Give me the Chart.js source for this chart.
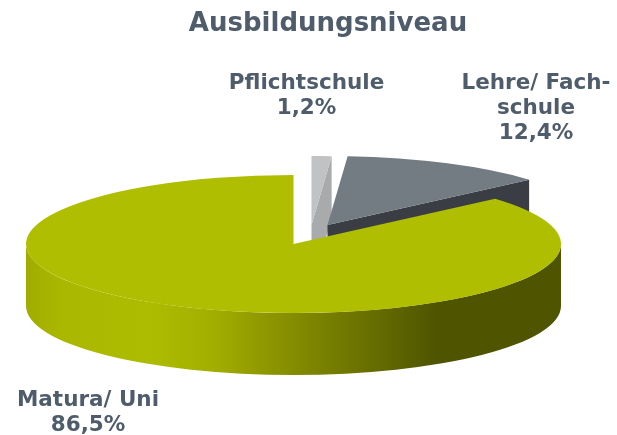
<!DOCTYPE html>
<html><head><meta charset="utf-8">
<style>html,body{margin:0;padding:0;background:#fff}canvas{display:block}</style>
<script src="https://cdn.jsdelivr.net/npm/chart.js@4/dist/chart.umd.js"></script>
</head><body>
<canvas id="c" width="617" height="435"></canvas>
<script>
const categories = ["Pflichtschule", "Lehre/ Fachschule", "Matura/ Uni"];
const values = [1.2, 12.4, 86.5];
const valueLabels = ["1,2%", "12,4%", "86,5%"];
const labelLines = [["Pflichtschule"], ["Lehre/ Fach-", "schule"], ["Matura/ Uni"]];
const topColors = ["#c1c2c4", "#737b83", "#b0be00"];
const faceColors = ["#a9aaac", "#3b3d45", "#4e5400"];
const labelPos = [[306.5, 83], [536, 83], [88, 400]];
const explode = [[18, -19], [34, -19], [0, 0]];
const CX = 293.5, CY = 244, RX = 267.5, RY = 69, DEPTH = 62;
const TEXT = "#4f5c6b", FONT = '"DejaVu Sans", Verdana, sans-serif';

const pie3d = {
  id: "pie3d",
  beforeDatasetsDraw(chart) {
    const ctx = chart.ctx;
    const arcs = chart.getDatasetMeta(0).data;
    arcs.forEach((arc, i) => {
      const cx = CX + explode[i][0], cy = CY + explode[i][1];
      const a0 = arc.startAngle, a1 = arc.endAngle;
      // cut face below the closing edge of the slice
      const ex = cx + RX * Math.cos(a1), ey = cy + RY * Math.sin(a1);
      ctx.fillStyle = faceColors[i];
      ctx.beginPath();
      ctx.moveTo(cx, cy); ctx.lineTo(ex, ey);
      ctx.lineTo(ex, ey + DEPTH); ctx.lineTo(cx, cy + DEPTH);
      ctx.closePath(); ctx.fill();
      // outer wall on the part of the rim that faces the viewer
      const f0 = Math.max(a0, 0), f1 = Math.min(a1, Math.PI);
      if (f1 > f0) {
        const g = ctx.createLinearGradient(26, 0, 561, 0);
        [[0, "#a0ac00"], [0.06, "#a9b700"], [0.23, "#aebc00"], [0.34, "#a4b000"],
         [0.5, "#848c00"], [0.77, "#4e5400"], [1, "#4e5400"]].forEach(s => g.addColorStop(s[0], s[1]));
        ctx.fillStyle = g;
        ctx.beginPath();
        ctx.ellipse(cx, cy, RX, RY, 0, f0, f1);
        ctx.ellipse(cx, cy + DEPTH, RX, RY, 0, f1, f0, true);
        ctx.closePath(); ctx.fill();
      }
      // top surface: the library's own arc element under a tilt transform
      ctx.save();
      ctx.translate(cx, cy);
      ctx.scale(RX / arc.outerRadius, RY / arc.outerRadius);
      ctx.translate(-arc.x, -arc.y);
      arc.draw(ctx);
      ctx.restore();
    });
    return false;
  },
  afterDraw(chart) {
    const ctx = chart.ctx;
    ctx.save();
    ctx.fillStyle = TEXT;
    ctx.font = "bold 21.5px " + FONT;
    ctx.textAlign = "center";
    ctx.textBaseline = "middle";
    categories.forEach((_, i) => {
      const lines = labelLines[i].concat(valueLabels[i]);
      lines.forEach((t, k) => ctx.fillText(t, labelPos[i][0], labelPos[i][1] + k * 25.3));
    });
    ctx.restore();
  }
};

new Chart(document.getElementById("c"), {
  type: "pie",
  data: { labels: categories, datasets: [{ data: values, backgroundColor: topColors, borderWidth: 0 }] },
  options: {
    responsive: false,
    animation: false,
    layout: { padding: { left: 39, top: 9 } },
    plugins: {
      legend: { display: false },
      tooltip: { enabled: false },
      title: { display: true, text: "Ausbildungsniveau", color: TEXT,
        font: { family: FONT, size: 26, weight: "bold" }, padding: { top: 0, bottom: 4 } }
    }
  },
  plugins: [pie3d]
});
</script>
</body></html>
